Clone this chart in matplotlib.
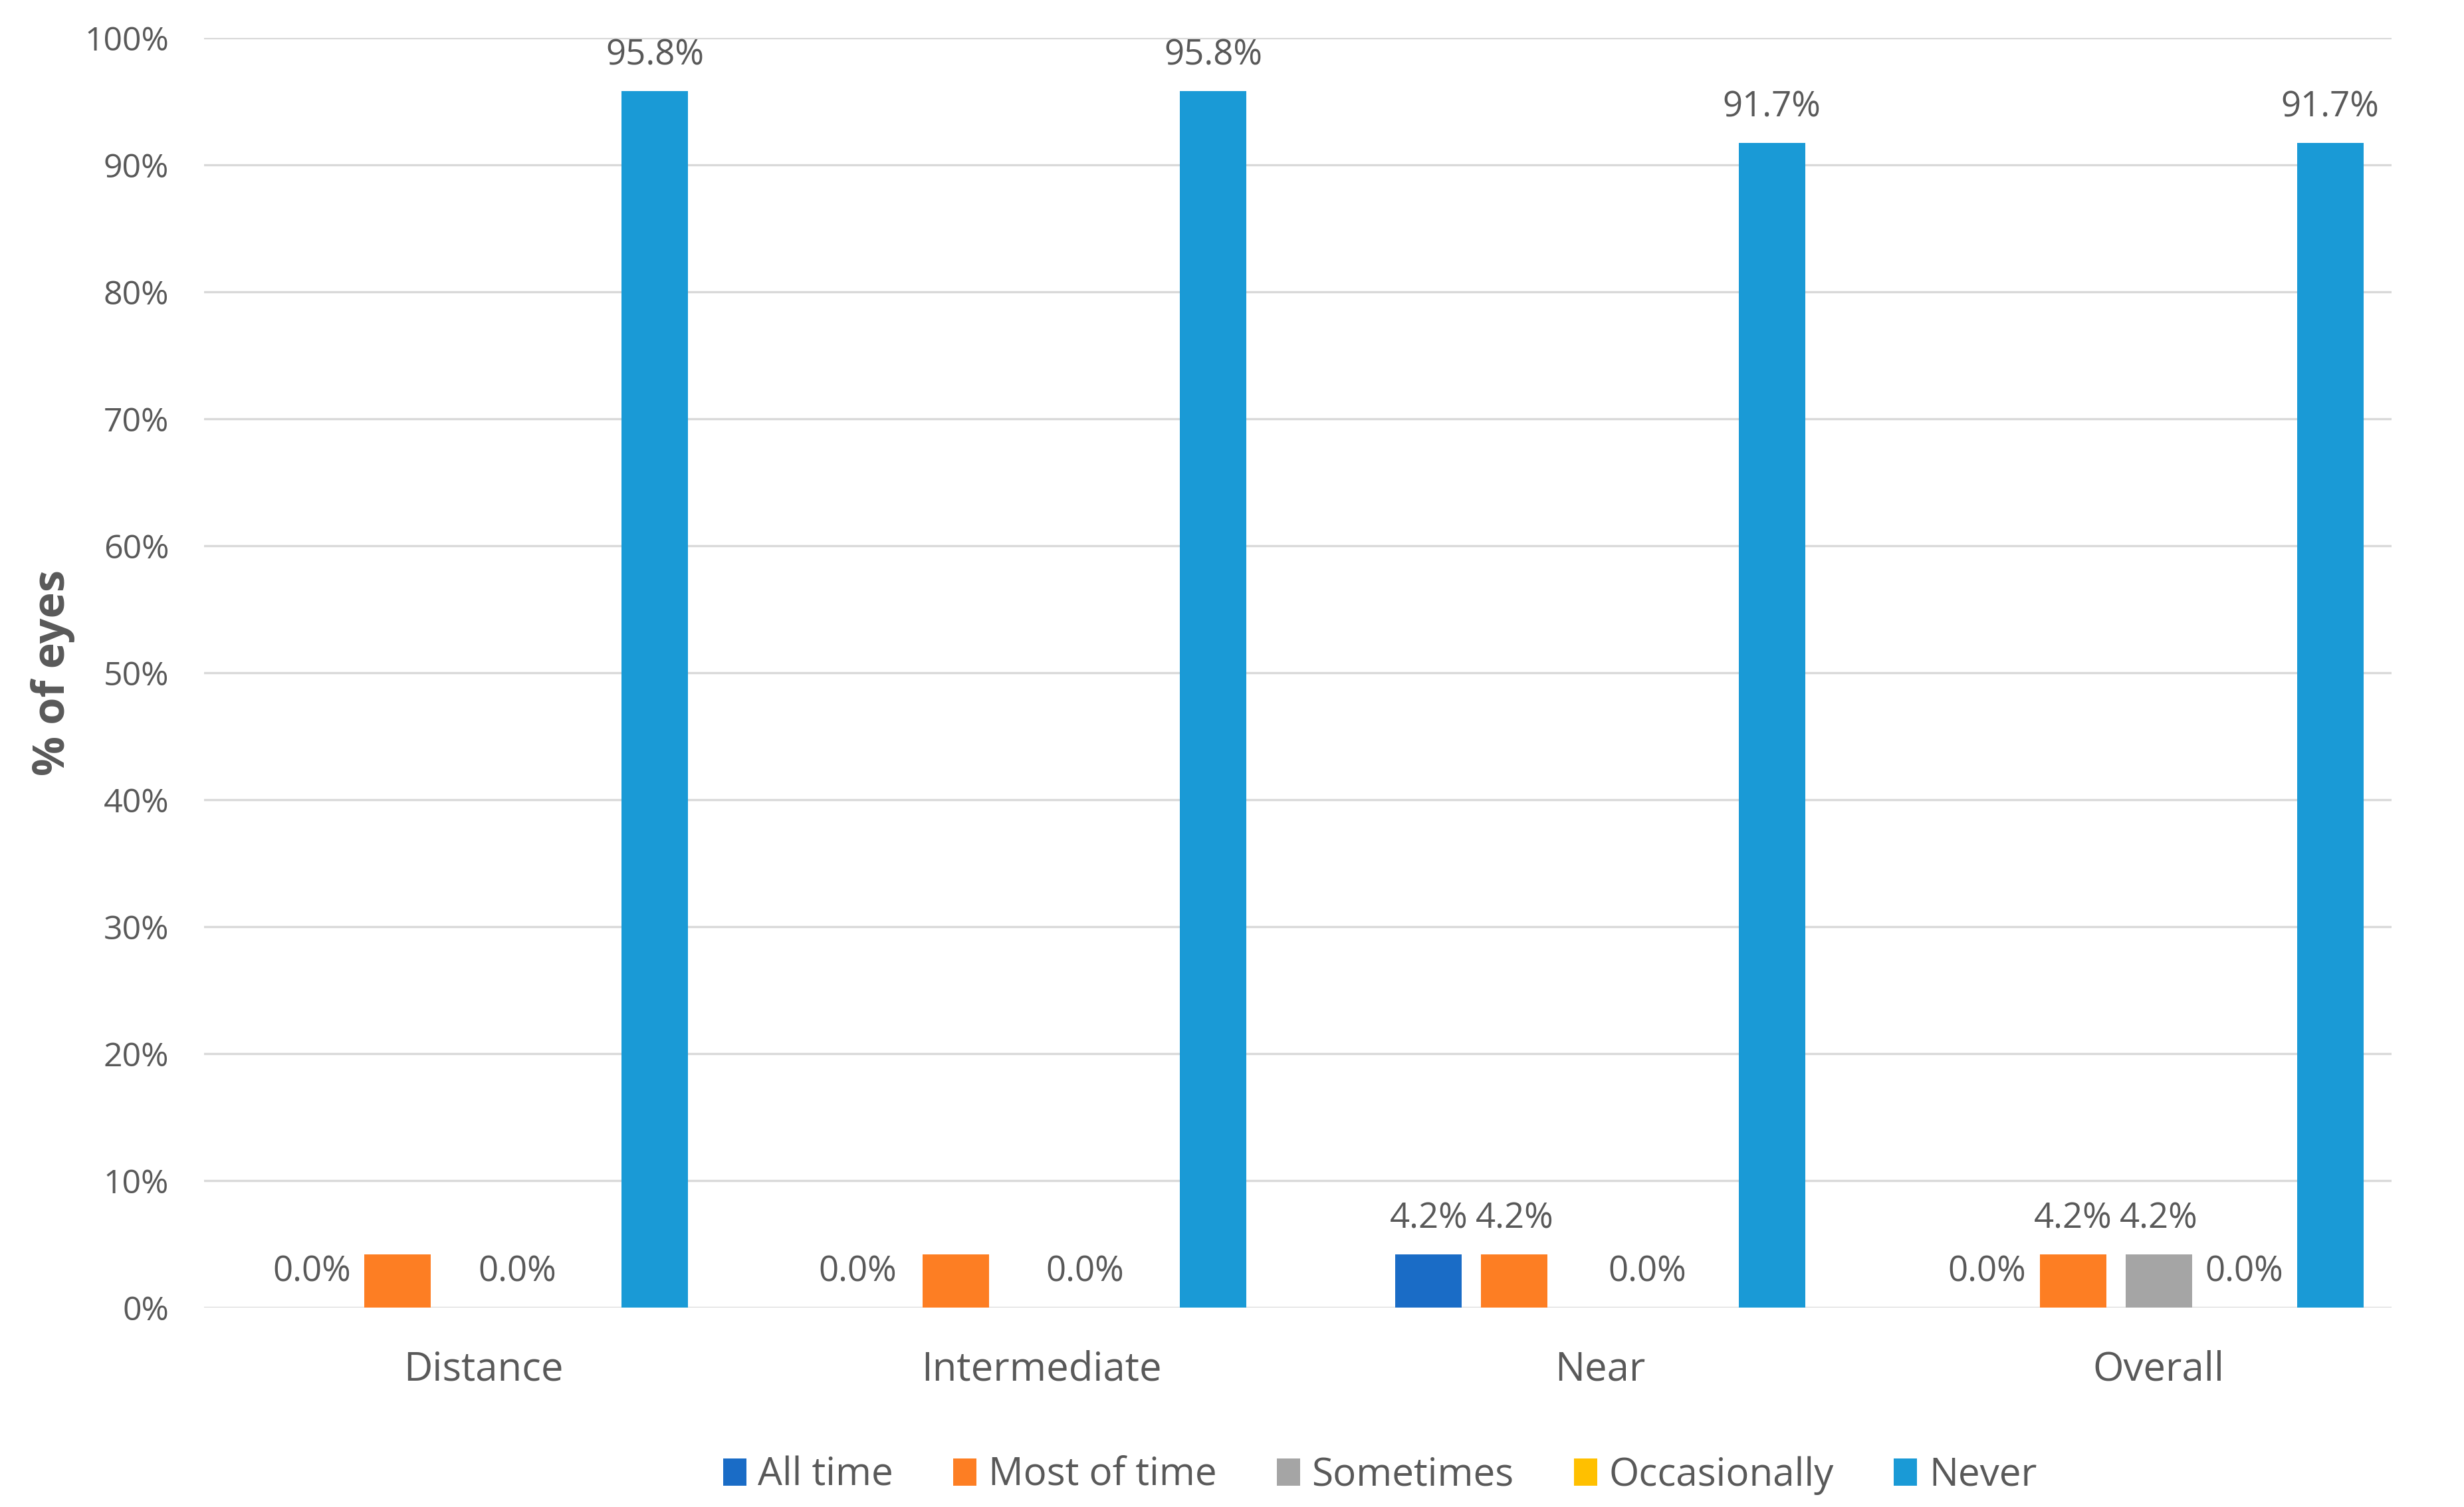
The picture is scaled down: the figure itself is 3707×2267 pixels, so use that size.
import matplotlib
matplotlib.use("Agg")
import matplotlib.pyplot as plt
import numpy as np

categories = ["Distance", "Intermediate", "Near", "Overall"]
series_names = ["All time", "Most of time", "Sometimes", "Occasionally", "Never"]
all_time = [0.0, 0.0, 4.2, 0.0]
most_of_time = [4.2, 4.2, 4.2, 4.2]
sometimes = [0.0, 0.0, 0.0, 4.2]
occasionally = [0.0, 0.0, 0.0, 0.0]
never = [95.8, 95.8, 91.7, 91.7]
yticks = [0, 10, 20, 30, 40, 50, 60, 70, 80, 90, 100]

# which data labels are visible (category, series, slot nudge) as in the original
shown_labels = [
    (0, 0, 0.0), (0, 2, 0.4), (0, 4, 0.0),
    (1, 0, -0.15), (1, 2, 0.5), (1, 4, 0.0),
    (2, 0, 0.0), (2, 1, 0.0), (2, 2, 0.55), (2, 4, 0.0),
    (3, 0, 0.0), (3, 1, 0.0), (3, 2, 0.0), (3, 3, 0.0), (3, 4, 0.0),
]

colors = ["#1A6CC6", "#FD7E23", "#A5A5A5", "#FFC000", "#1A9AD6"]
TXT = "#595959"

plt.rcParams["font.family"] = ["Open Sans", "DejaVu Sans"]

fig = plt.figure(figsize=(18.535, 11.335), dpi=200)
ax = fig.add_axes([0.0828, 0.1323, 0.8878, 0.8426])

values = [all_time, most_of_time, sometimes, occasionally, never]
x = np.arange(len(categories))
slot, bw = 0.1536, 0.119
for i, (name, vals) in enumerate(zip(series_names, values)):
    ax.bar(x + (i - 2) * slot, vals, width=bw, color=colors[i], label=name, zorder=3)

for c, s, nudge in shown_labels:
    v = values[s][c]
    ax.text(x[c] + (s - 2 + nudge) * slot, v + 2.8, "%.1f%%" % v,
            ha="center", va="center", fontsize=19, color=TXT, zorder=4)

ax.set_xlim(-0.5, 3.417)
ax.set_ylim(0, 100)
ax.set_yticks(yticks)
ax.set_yticklabels(["%d%%" % t for t in yticks], fontsize=18, color=TXT)
ax.set_xticks(x)
ax.set_xticklabels(categories, fontsize=21.5, color=TXT)
ax.tick_params(axis="both", length=0)
ax.tick_params(axis="y", pad=19)
ax.tick_params(axis="x", pad=23)
ax.grid(axis="y", color="#D9D9D9", lw=1.2, zorder=0)
for sp in ax.spines.values():
    sp.set_visible(False)

ax.set_ylabel("% of eyes", fontsize=24, fontweight="bold", color=TXT)
ax.yaxis.set_label_coords(-0.059, 0.5)

fig.legend(loc="center", bbox_to_anchor=(0.56, 0.021), ncol=5, frameon=False,
           fontsize=21, labelcolor=TXT, handlelength=0.6, handleheight=0.7,
           handletextpad=0.3, columnspacing=1.55)

fig.savefig("out.png", facecolor="white")
